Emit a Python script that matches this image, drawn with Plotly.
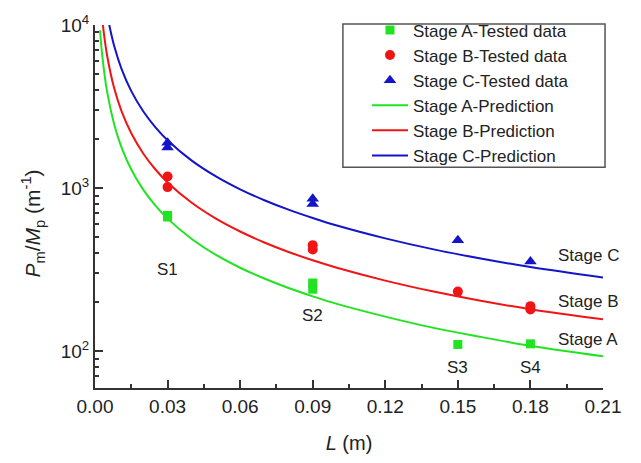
import math
import plotly.graph_objects as go

# ---- tested data ----
L_A = [0.03, 0.03, 0.09, 0.09, 0.15, 0.18]
V_A = [680, 665, 262, 240, 110, 111]
L_B = [0.03, 0.03, 0.09, 0.09, 0.15, 0.18, 0.18]
V_B = [1178, 1014, 447, 420, 232, 189, 180]
L_C = [0.03, 0.03, 0.09, 0.09, 0.15, 0.18]
V_C = [1900, 1774, 860, 800, 479, 355]

# ---- prediction curves (estimated) ----
PL_A = [0.0021, 0.003, 0.005, 0.008, 0.011, 0.015, 0.02, 0.025, 0.03, 0.04, 0.05,
        0.06, 0.07, 0.08, 0.09, 0.10, 0.12, 0.14, 0.16, 0.18, 0.21]
PV_A = [9290, 6500, 3900, 2440, 1773, 1300, 975, 780, 650, 488, 390,
        325, 279, 244, 217, 195, 163, 139, 122, 108, 93]
PL_B = [0.00325, 0.005, 0.008, 0.011, 0.015, 0.02, 0.025, 0.03, 0.04, 0.05,
        0.06, 0.07, 0.08, 0.09, 0.10, 0.12, 0.14, 0.16, 0.18, 0.21]
PV_B = [10000, 6500, 4060, 2955, 2167, 1625, 1300, 1083, 813, 650,
        542, 464, 406, 361, 325, 271, 232, 203, 181, 157]
PL_C = [0.0059, 0.008, 0.011, 0.015, 0.02, 0.025, 0.03, 0.04, 0.05,
        0.06, 0.07, 0.08, 0.09, 0.10, 0.12, 0.14, 0.16, 0.18, 0.21]
PV_C = [10000, 7375, 5364, 3933, 2950, 2360, 1967, 1475, 1180,
        983, 843, 738, 656, 590, 492, 421, 369, 328, 283]

X_TICKS = [0.00, 0.03, 0.06, 0.09, 0.12, 0.15, 0.18, 0.21]
X_TICK_TEXT = ["0.00", "0.03", "0.06", "0.09", "0.12", "0.15", "0.18", "0.21"]
Y_TICKS = [100, 1000, 10000]
Y_TICK_TEXT = ["10<sup>2</sup>", "10<sup>3</sup>", "10<sup>4</sup>"]
Y_MINOR = [60, 70, 80, 90, 200, 300, 400, 500, 600, 700, 800, 900,
           2000, 3000, 4000, 5000, 6000, 7000, 8000, 9000]

S_LABELS = ["S1", "S2", "S3", "S4"]
S_X = [0.03, 0.09, 0.15, 0.18]
S_Y = [315, 166, 80, 80]
STAGE_LABELS = ["Stage C", "Stage B", "Stage A"]
STAGE_Y = [387, 201, 118]

GREEN = "#22e322"
RED = "#f01414"
BLUE = "#1414c8"
FONT = "Liberation Sans, Arial, sans-serif"
TXT = "#222222"

fig = go.Figure()
fig.add_trace(go.Scatter(x=L_A, y=V_A, mode="markers", name="Stage A-Tested data",
                         marker=dict(symbol="square", size=9, color=GREEN)))
fig.add_trace(go.Scatter(x=L_B, y=V_B, mode="markers", name="Stage B-Tested data",
                         marker=dict(symbol="circle", size=10, color=RED)))
fig.add_trace(go.Scatter(x=L_C, y=V_C, mode="markers", name="Stage C-Tested data",
                         marker=dict(symbol="triangle-up", size=11, color=BLUE)))
fig.add_trace(go.Scatter(x=PL_A, y=PV_A, mode="lines", name="Stage A-Prediction",
                         line=dict(color=GREEN, width=2, shape="spline", smoothing=1)))
fig.add_trace(go.Scatter(x=PL_B, y=PV_B, mode="lines", name="Stage B-Prediction",
                         line=dict(color=RED, width=2, shape="spline", smoothing=1)))
fig.add_trace(go.Scatter(x=PL_C, y=PV_C, mode="lines", name="Stage C-Prediction",
                         line=dict(color=BLUE, width=2, shape="spline", smoothing=1)))

annotations = []
for t, x, y in zip(S_LABELS, S_X, S_Y):
    annotations.append(dict(x=x, y=math.log10(y), xref="x", yref="y", text=t,
                            showarrow=False, font=dict(size=17, color=TXT, family=FONT)))
for t, y in zip(STAGE_LABELS, STAGE_Y):
    annotations.append(dict(x=0.1906, y=math.log10(y), xref="x", yref="y", text=t,
                            xanchor="left", showarrow=False,
                            font=dict(size=17, color=TXT, family=FONT)))
# y-axis title (placed as annotation to match the reference's offset)
annotations.append(dict(
    x=-0.122, y=0.453, xref="paper", yref="paper", textangle=-90,
    xanchor="center", yanchor="middle",
    text="<i>P</i><sub>m</sub>/<i>M</i><sub>p</sub> (m<sup>-1</sup>)",
    showarrow=False, font=dict(size=21, color=TXT, family=FONT)))

fig.update_layout(
    width=641, height=463,
    margin=dict(l=95, r=38, t=17, b=71),
    paper_bgcolor="white", plot_bgcolor="white",
    font=dict(family=FONT, color=TXT, size=19),
    showlegend=True,
    legend=dict(x=0.5354, y=1.0347, xanchor="left", yanchor="top",
                bgcolor="rgba(0,0,0,0)", borderwidth=0, itemwidth=36,
                font=dict(size=17, family=FONT, color=TXT),
                tracegroupgap=0),
    annotations=annotations,
    shapes=[dict(type="rect", xref="paper", yref="paper",
                 x0=0.488, x1=1.004, y0=0.608, y1=1.0027,
                 line=dict(color="#555555", width=1.5))],
)

fig.update_xaxes(
    range=[0, 0.21], tickvals=X_TICKS, ticktext=X_TICK_TEXT,
    showgrid=False, zeroline=False,
    showline=True, linecolor="#333333", linewidth=2,
    ticks="inside", ticklen=8, tickwidth=1.5, tickcolor="#333333",
    minor=dict(dtick=0.015, tick0=0, ticks="inside", ticklen=4, tickwidth=1.5,
               tickcolor="#333333", showgrid=False),
    tickfont=dict(size=19, family=FONT, color=TXT),
    title=dict(text="<i>L</i> (m)", font=dict(size=20, family=FONT, color=TXT), standoff=20),
)
fig.update_yaxes(
    type="log", range=[1.7745, 4.0], tickvals=Y_TICKS, ticktext=Y_TICK_TEXT,
    showgrid=False, zeroline=False,
    showline=True, linecolor="#333333", linewidth=2,
    ticks="inside", ticklen=8, tickwidth=1.5, tickcolor="#333333",
    minor=dict(tickvals=Y_MINOR, ticks="inside", ticklen=4, tickwidth=1.5,
               tickcolor="#333333", showgrid=False),
    tickfont=dict(size=19, family=FONT, color=TXT),
)

fig.write_html("out.html")
